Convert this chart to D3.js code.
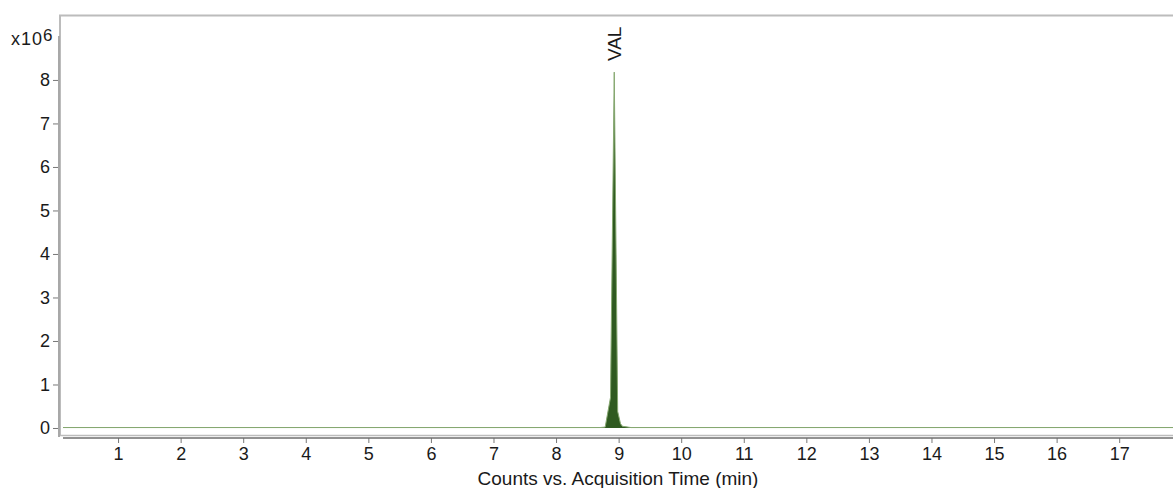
<!DOCTYPE html>
<html>
<head>
<meta charset="utf-8">
<script src="https://cdn.jsdelivr.net/npm/d3@7/dist/d3.min.js"></script>
<style>
html,body{margin:0;padding:0;background:#fff;}
svg{display:block;font-family:"Liberation Sans",Arial,sans-serif;}
</style>
</head>
<body>
<svg id="chart" width="1173" height="488"></svg>
<script>
// Acquisition time (min)
const times = [0.12, 8.70, 8.785, 8.87, 8.93, 8.985, 9.03, 9.06, 9.15, 9.20, 17.86];
// Counts (x10^6)
const counts = [0.01, 0.01, 0.02, 0.70, 8.18, 0.38, 0.10, 0.04, 0.02, 0.01, 0.01];
const xTicks = [1,2,3,4,5,6,7,8,9,10,11,12,13,14,15,16,17];
const yTicks = [0,1,2,3,4,5,6,7,8];
const peakLabels = ["VAL"];
const peakTimes = [8.93];
const peakHeights = [8.18];

const svg = d3.select("#chart");
const x = d3.scaleLinear().domain([0.12, 17.86]).range([63, 1173]);
const y = d3.scaleLinear().domain([-0.207, 9.01]).range([437, 36]);
const FONT = "'Liberation Sans',Arial,sans-serif";

// frame
svg.append("path")
  .attr("d", `M60,436 L60,15.5 L1174,15.5`)
  .attr("fill", "none").attr("stroke", "#bcbcbc").attr("stroke-width", 2);
svg.append("line").attr("x1", 60).attr("x2", 1173).attr("y1", 435.5).attr("y2", 435.5)
  .attr("stroke", "#bcbcbc").attr("stroke-width", 1.5);

// y axis
const yAxis = svg.append("g").attr("transform", "translate(59,0)")
  .call(d3.axisLeft(y).tickValues(yTicks).tickFormat(d3.format("d")).tickSize(6).tickPadding(3));
yAxis.select(".domain").remove();
yAxis.append("line").attr("x1", 0).attr("x2", 0).attr("y1", 36).attr("y2", 437)
  .attr("stroke", "#a8a8a8").attr("stroke-width", 2);
yAxis.selectAll(".tick line").attr("stroke", "#777");
yAxis.selectAll(".tick text").attr("fill", "#1a1a1a").style("font-size", "18px")
  .style("font-family", FONT);

// multiplier
const mult = svg.append("text").attr("x", 11).attr("y", 45).attr("fill", "#1a1a1a")
  .style("font-size", "18px").attr("textLength", 31);
mult.append("tspan").text("x10");
svg.append("text").attr("x", 43).attr("y", 41).attr("fill", "#1a1a1a")
  .style("font-size", "17px").text("6");

// x axis
const xAxis = svg.append("g").attr("transform", "translate(0,438)")
  .call(d3.axisBottom(x).tickValues(xTicks).tickFormat(d3.format("d")).tickSize(5).tickPadding(4));
xAxis.select(".domain").remove();
xAxis.append("line").attr("x1", 63).attr("x2", 1173).attr("y1", 0).attr("y2", 0)
  .attr("stroke", "#6e6e6e").attr("stroke-width", 1.5);
xAxis.selectAll(".tick line").attr("stroke", "#777");
xAxis.selectAll(".tick text").attr("fill", "#1a1a1a").style("font-size", "18px")
  .style("font-family", FONT);

svg.append("text").attr("x", (x(0.12) + x(17.86)) / 2).attr("y", 485)
  .attr("text-anchor", "middle").attr("fill", "#1a1a1a").style("font-size", "19px")
  .text("Counts vs. Acquisition Time (min)");

// data
const data = times.map((t, i) => ({t: t, c: counts[i]}));
const area = d3.area().x(d => x(d.t)).y0(y(0)).y1(d => y(d.c));
const line = d3.line().x(d => x(d.t)).y(d => y(d.c));
svg.append("path").datum(data).attr("d", area).attr("fill", "#2f5a20");
svg.append("path").datum(data).attr("d", line).attr("fill", "none")
  .attr("stroke", "#86a870").attr("stroke-width", 1);

// peak label
peakLabels.forEach((lab, i) => {
  const px = x(peakTimes[i]), py = y(peakHeights[i]) - 11;
  svg.append("text").attr("transform", `translate(${px + 7},${py}) rotate(-90)`)
    .attr("fill", "#1a1a1a").style("font-size", "19px").text(lab);
});
</script>
</body>
</html>
